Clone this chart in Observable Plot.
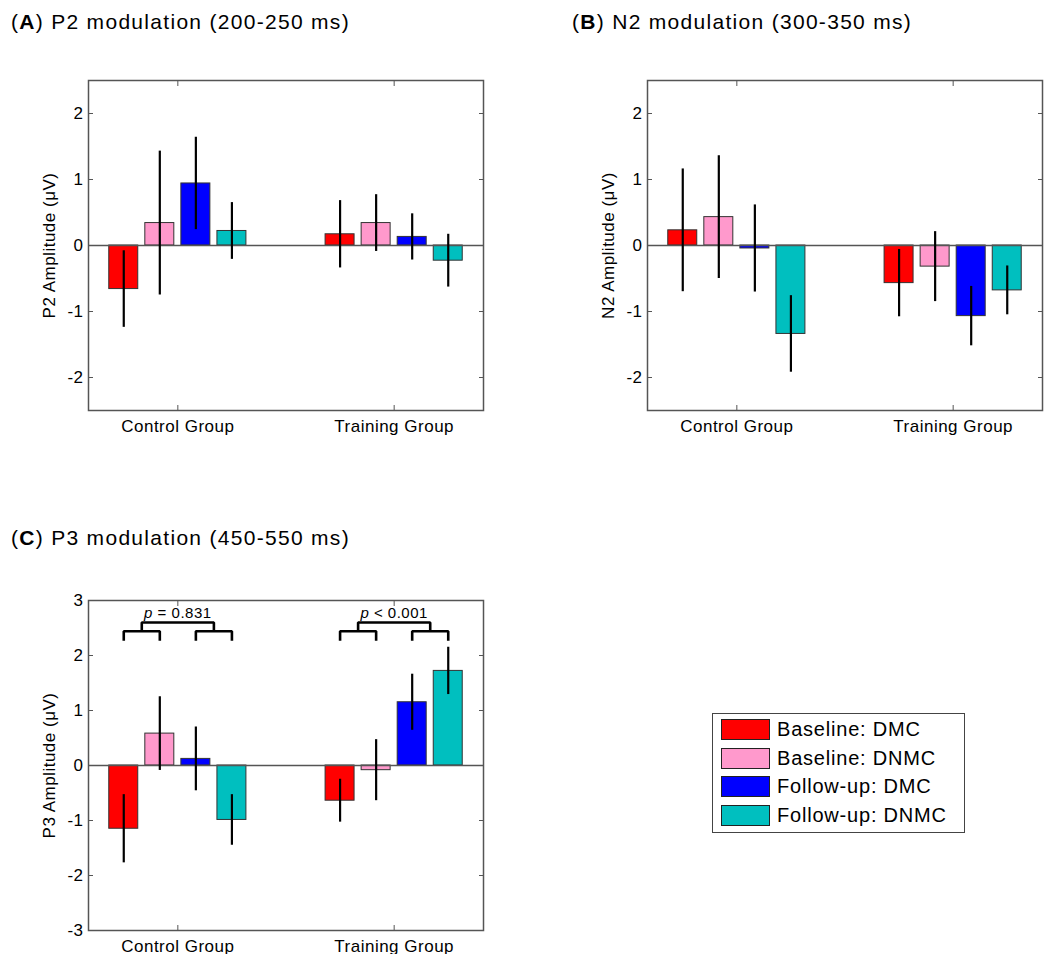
<!DOCTYPE html>
<html>
<head>
<meta charset="utf-8">
<script src="https://cdn.jsdelivr.net/npm/d3@7"></script>
<script src="https://cdn.jsdelivr.net/npm/@observablehq/plot@0.6"></script>
<style>
  html, body { margin: 0; padding: 0; background: white; width: 1046px; height: 954px; overflow: hidden; }
  body { position: relative; font-family: "Liberation Sans", Arial, sans-serif; color: #000; }
  .title { position: absolute; font-size: 21px; letter-spacing: 1.3px; line-height: 21px; white-space: nowrap; }
  .panel { position: absolute; }
  .panel svg { max-width: none !important; }
  .panel svg text { letter-spacing: 0.5px; }
  .legend { position: absolute; left: 712px; top: 713px; width: 253px; height: 120px; box-sizing: border-box; border: 1.3px solid #444; background: white; }
  .legend .row { position: absolute; left: 8px; height: 21px; display: flex; align-items: center; }
  .legend .sw { width: 49px; height: 21px; box-sizing: border-box; border: 1.3px solid #222; margin-right: 7px; }
  .legend .lab { font-size: 20px; line-height: 21px; letter-spacing: 0.8px; white-space: nowrap; }
</style>
</head>
<body>
<div id="root"></div>
<script>
// ---------- data ----------
const groups = ["Control Group", "Training Group"];
const conditions = ["Baseline: DMC", "Baseline: DNMC", "Follow-up: DMC", "Follow-up: DNMC"];
const colors = ["#ff0000", "#ff99cc", "#0000ff", "#00bfbf"];

const titleLetters = ["A", "B", "C"];
const titleTexts = ["P2 modulation (200-250 ms)", "N2 modulation (300-350 ms)", "P3 modulation (450-550 ms)"];
const yLabels = ["P2 Amplitude (\u03bcV)", "N2 Amplitude (\u03bcV)", "P3 Amplitude (\u03bcV)"];

// P2 (200-250 ms)
const p2Control = [-0.66, 0.34, 0.94, 0.22];
const p2ControlErr = [0.58, 1.09, 0.70, 0.43];
const p2Training = [0.17, 0.34, 0.13, -0.23];
const p2TrainingErr = [0.51, 0.43, 0.35, 0.40];
// N2 (300-350 ms)
const n2Control = [0.23, 0.43, -0.045, -1.34];
const n2ControlErr = [0.93, 0.93, 0.66, 0.58];
const n2Training = [-0.57, -0.32, -1.07, -0.68];
const n2TrainingErr = [0.51, 0.53, 0.45, 0.37];
// P3 (450-550 ms)
const p3Control = [-1.15, 0.58, 0.12, -0.99];
const p3ControlErr = [0.62, 0.67, 0.58, 0.46];
const p3Training = [-0.64, -0.085, 1.15, 1.72];
const p3TrainingErr = [0.39, 0.555, 0.51, 0.43];

// P3 comparison annotations
const pLabels = ["p = 0.831", "p < 0.001"];
const bracketLegY = 2.27, bracketPairY = 2.44, bracketTopY = 2.6, pLabelY = 2.77;

const yTicksAB = [-2, -1, 0, 1, 2];
const yTicksC = [-3, -2, -1, 0, 1, 2, 3];
const yDomainAB = [-2.5, 2.5];
const yDomainC = [-3, 3];

// ---------- layout constants ----------
const STEP = 1 / 6;       // spacing of bars inside a group (x units)
const HALF = 0.067;       // half bar width (x units)
const xDomain = [0.587, 2.413];
const pos = (gi, ci) => gi + 1 + (ci - 1.5) * STEP;

function rowsFor(ctrl, ctrlErr, trn, trnErr) {
  const vals = [ctrl, trn], errs = [ctrlErr, trnErr], rows = [];
  groups.forEach((g, gi) => conditions.forEach((c, ci) => rows.push({
    group: g, cond: c, x: pos(gi, ci), v: vals[gi][ci], e: errs[gi][ci]
  })));
  return rows;
}

function panel(rows, yDomain, yTicks, ylabel, width, extra = []) {
  const svg = Plot.plot({
    width, height: 400,
    marginLeft: 88, marginRight: width - 88 - 395, marginTop: 30, marginBottom: 40,
    style: {fontFamily: "'Liberation Sans', Arial, sans-serif", fontSize: "17px", background: "white", overflow: "visible", color: "#000", maxWidth: "none"},
    x: {domain: xDomain},
    y: {domain: yDomain},
    color: {domain: conditions, range: colors},
    marks: [
      Plot.rectY(rows, {x1: d => d.x - HALF, x2: d => d.x + HALF, y1: 0, y2: "v", fill: "cond", stroke: "#333", strokeWidth: 1}),
      Plot.ruleY([0], {stroke: "#555", strokeWidth: 1.5}),
      Plot.ruleX(rows, {x: "x", y1: d => d.v - d.e, y2: d => d.v + d.e, stroke: "#000", strokeWidth: 2.2}),
      ...extra,
      Plot.frame({stroke: "#555", strokeWidth: 1.5}),
      Plot.axisX({ticks: [1, 2], tickFormat: i => groups[i - 1], tickSize: 0, tickPadding: 9, label: null, fontSize: 17}),
      Plot.axisX({ticks: [1, 2], tickFormat: () => "", tickSize: -5, label: null, stroke: "#555"}),
      Plot.axisX({anchor: "top", ticks: [1, 2], tickFormat: () => "", tickSize: -5, label: null, stroke: "#555"}),
      Plot.axisY({ticks: yTicks, tickFormat: d => String(d), tickSize: 0, tickPadding: 5, label: ylabel, labelAnchor: "center", labelOffset: 46, labelArrow: "none", fontSize: 17}),
      Plot.axisY({ticks: yTicks, tickFormat: () => "", tickSize: -5, label: null, stroke: "#555"}),
      Plot.axisY({anchor: "right", ticks: yTicks, tickFormat: () => "", tickSize: -5, label: null, stroke: "#555"})
    ]
  });
  // italic "p" in comparison labels
  svg.querySelectorAll("text").forEach(t => {
    const s = t.textContent;
    if (t.childElementCount === 0 && pLabels.includes(s)) {
      t.textContent = "";
      const ns = "http://www.w3.org/2000/svg";
      const a = document.createElementNS(ns, "tspan");
      a.setAttribute("font-style", "italic"); a.textContent = "p";
      const b = document.createElementNS(ns, "tspan");
      b.textContent = s.slice(1);
      t.appendChild(a); t.appendChild(b);
    }
  });
  return svg;
}

// brackets for panel C
const bracketLines = [];
groups.forEach((g, gi) => {
  const [x0, x1, x2, x3] = [0, 1, 2, 3].map(ci => pos(gi, ci));
  const mA = (x0 + x1) / 2, mB = (x2 + x3) / 2;
  bracketLines.push(
    {z: g + "a", pts: [[x0, bracketLegY], [x0, bracketPairY], [x1, bracketPairY], [x1, bracketLegY]]},
    {z: g + "b", pts: [[x2, bracketLegY], [x2, bracketPairY], [x3, bracketPairY], [x3, bracketLegY]]},
    {z: g + "c", pts: [[mA, bracketPairY], [mA, bracketTopY], [mB, bracketTopY], [mB, bracketPairY]]}
  );
});
const bracketPts = bracketLines.flatMap(b => b.pts.map(([x, y]) => ({z: b.z, x, y})));
const pRows = groups.map((g, gi) => ({x: gi + 1, y: pLabelY, text: pLabels[gi]}));

const root = document.getElementById("root");
function place(el, left, top) {
  const d = document.createElement("div");
  d.className = "panel"; d.style.left = left + "px"; d.style.top = top + "px";
  d.appendChild(el); root.appendChild(d);
}
function title(i, left, top) {
  const d = document.createElement("div");
  d.className = "title"; d.style.left = left + "px"; d.style.top = top + "px";
  d.innerHTML = `(<b>${titleLetters[i]}</b>) ${titleTexts[i]}`;
  root.appendChild(d);
}

title(0, 11, 11);
title(1, 572, 11);
title(2, 11, 527);

place(panel(rowsFor(p2Control, p2ControlErr, p2Training, p2TrainingErr), yDomainAB, yTicksAB, yLabels[0], 493), 0, 50);
place(panel(rowsFor(n2Control, n2ControlErr, n2Training, n2TrainingErr), yDomainAB, yTicksAB, yLabels[1], 486), 559, 50);
place(panel(rowsFor(p3Control, p3ControlErr, p3Training, p3TrainingErr), yDomainC, yTicksC, yLabels[2], 493, [
  Plot.line(bracketPts, {x: "x", y: "y", z: "z", stroke: "#000", strokeWidth: 2.6, strokeLinejoin: "miter", strokeLinecap: "butt"}),
  Plot.text(pRows, {x: "x", y: "y", text: "text", fontSize: 15, fill: "#000"})
]), 0, 570);

// legend
const leg = document.createElement("div");
leg.className = "legend";
conditions.forEach((c, i) => {
  const r = document.createElement("div");
  r.className = "row"; r.style.top = (5 + i * 28.7) + "px";
  const sw = document.createElement("div");
  sw.className = "sw"; sw.style.background = colors[i];
  const lab = document.createElement("span");
  lab.className = "lab"; lab.textContent = c;
  r.appendChild(sw); r.appendChild(lab); leg.appendChild(r);
});
root.appendChild(leg);
</script>
</body>
</html>
